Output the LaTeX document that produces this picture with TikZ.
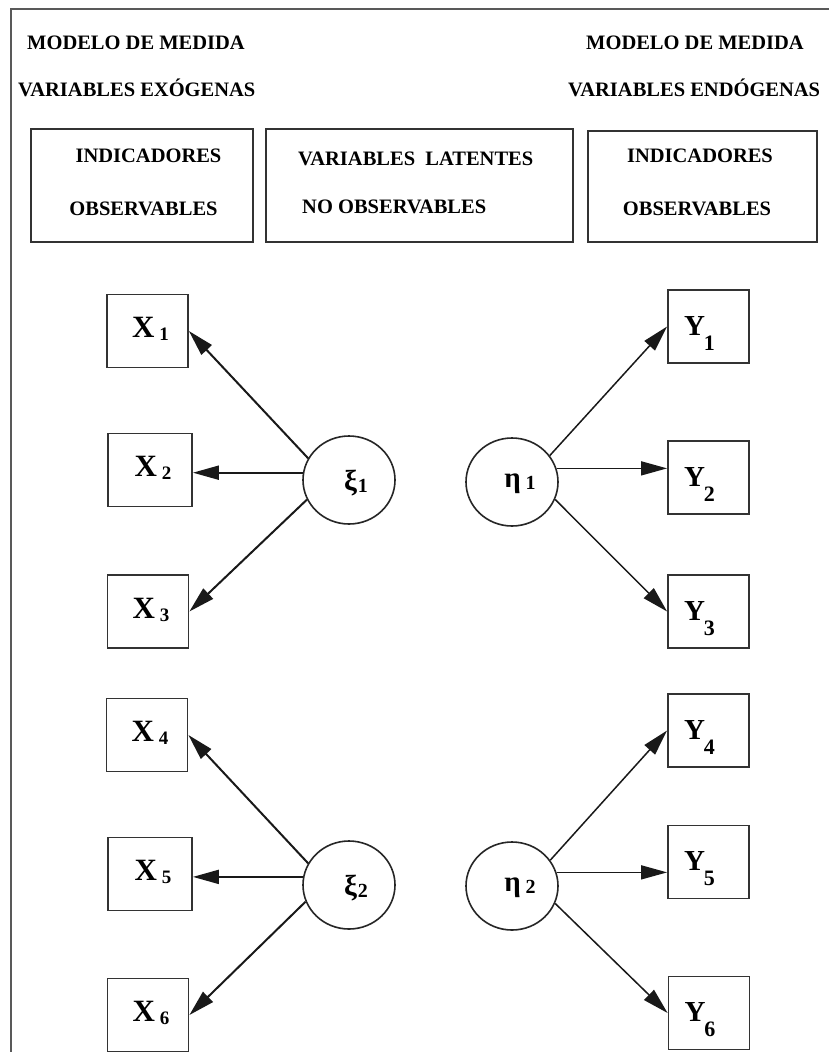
\documentclass[tikz,border=0pt]{standalone}
\usepackage{fontspec}
\setmainfont{Liberation Serif}
\usetikzlibrary{arrows.meta,shapes.geometric,calc}
\newcommand\Xl[1]{{\fontsize{31}{31}\selectfont X}\kern5pt\raisebox{-3pt}{\fontsize{19}{19}\selectfont #1}}
\newcommand\Yl[1]{{\fontsize{29}{29}\selectfont Y}\kern-1pt\raisebox{-15pt}{\fontsize{22}{22}\selectfont #1}}
\newcommand\Gl[3]{{\fontsize{29}{29}\selectfont #1}\kern#3\raisebox{-2pt}{\fontsize{20}{20}\selectfont #2}}
\begin{document}
\begin{tikzpicture}[x=1pt,y=-1pt,
  hdr/.style={inner sep=0pt,font=\fontsize{20.5}{20.5}\selectfont\bfseries},
  hbox/.style={draw=black!80,line width=1.8pt,inner sep=0pt},
  obs/.style={draw=black!80,line width=1.8pt,inner sep=0pt,minimum width=81pt,minimum height=73pt},
  lat/.style={ellipse,draw=black!85,line width=1.6pt,inner sep=0pt,minimum width=92pt,minimum height=88pt},
  lab/.style={inner sep=0pt,font=\bfseries},
  larr/.style={line width=2pt,draw=black!90,-{Triangle[length=26pt,width=14pt]}},
  rarr/.style={line width=1.5pt,draw=black!90,-{Triangle[length=26pt,width=14pt]}}]
\useasboundingbox (0,0) rectangle (828,1052);
\fill[white] (0,0) rectangle (828,1052);
% frame
\draw[black!65,line width=1.5pt] (11,1060) -- (11,9) -- (840,9);
% headers
\node[hdr,anchor=base west] (h1) at (27,49) {MODELO DE MEDIDA};
\node[hdr,anchor=base west] (h2) at (18,96) {VARIABLES EXÓGENAS};
\node[hdr,anchor=base west] (h3) at (586,49) {MODELO DE MEDIDA};
\node[hdr,anchor=base west] (h4) at (568,96) {VARIABLES ENDÓGENAS};
% header boxes
\node[hbox,minimum width=222pt,minimum height=113pt] (hb1) at (142,185.5) {};
\node[hbox,minimum width=307pt,minimum height=113pt] (hb2) at (419.5,185.5) {};
\node[hbox,minimum width=229pt,minimum height=111pt] (hb3) at (702.5,186.5) {};
\node[hdr,anchor=base] (t1a) at (148.5,162) {INDICADORES};
\node[hdr,anchor=base] (t1b) at (143.5,215) {OBSERVABLES};
\node[hdr,anchor=base west] (t2a) at (298,165) {VARIABLES\ \ LATENTES};
\node[hdr,anchor=base west] (t2b) at (302,213) {NO OBSERVABLES};
\node[hdr,anchor=base] (t3a) at (700,162) {INDICADORES};
\node[hdr,anchor=base] (t3b) at (697,215) {OBSERVABLES};
% observed X
\node[obs] (X1) at (147.5,331) {};
\node[obs,minimum width=84pt] (X2) at (150,470) {};
\node[obs] (X3) at (148,611.5) {};
\node[obs] (X4) at (147,735) {};
\node[obs,minimum width=84pt] (X5) at (150,874) {};
\node[obs] (X6) at (148,1015) {};
\foreach \i in {1,...,6}{\node[lab] (lx\i) at ($(X\i)+(3,-2)$) {\Xl{\i}};}
% observed Y
\node[obs] (Y1) at (708.5,326.5) {};
\node[obs] (Y2) at (708.5,477.5) {};
\node[obs] (Y3) at (708.5,611.5) {};
\node[obs] (Y4) at (708.5,730.5) {};
\node[obs] (Y5) at (708.5,862) {};
\node[obs] (Y6) at (709,1013) {};
\foreach \i in {1,...,6}{\node[lab] (ly\i) at ($(Y\i)+(-9,7)$) {\Yl{\i}};}
% latent
\node[lat] (xi1) at (349,480) {};
\node[lat] (xi2) at (349,885) {};
\node[lat] (eta1) at (512,482) {};
\node[lat] (eta2) at (512,886) {};
\node[lab] (lxi1) at ($(xi1)+(7,3)$) {\Gl{ξ}{1}{1pt}};
\node[lab] (lxi2) at ($(xi2)+(7,3)$) {\Gl{ξ}{2}{1pt}};
\node[lab] (leta1) at ($(eta1)+(8,2)$) {\Gl{η}{1}{5pt}};
\node[lab] (leta2) at ($(eta2)+(8,2)$) {\Gl{η}{2}{5pt}};
% arrows
\draw[larr] (xi1.152) -- (X1.east);
\draw[larr] (xi1.171) -- (xi1.171 -| X2.east);
\draw[larr] (xi1.205) -- (X3.east);
\draw[larr] (xi2.152) -- (X4.east);
\draw[larr] (xi2.170) -- (xi2.170 -| X5.east);
\draw[larr] (xi2.201) -- (X6.east);
\draw[rarr] (eta1.35) -- (Y1.west);
\draw[rarr] (eta1.17) -- (eta1.17 -| Y2.west);
\draw[rarr] (eta1.-22) -- (Y3.west);
\draw[rarr] (eta2.34) -- (Y4.west);
\draw[rarr] (eta2.17) -- (eta2.17 -| Y5.west);
\draw[rarr] (eta2.-22) -- (Y6.west);
\end{tikzpicture}
\end{document}
